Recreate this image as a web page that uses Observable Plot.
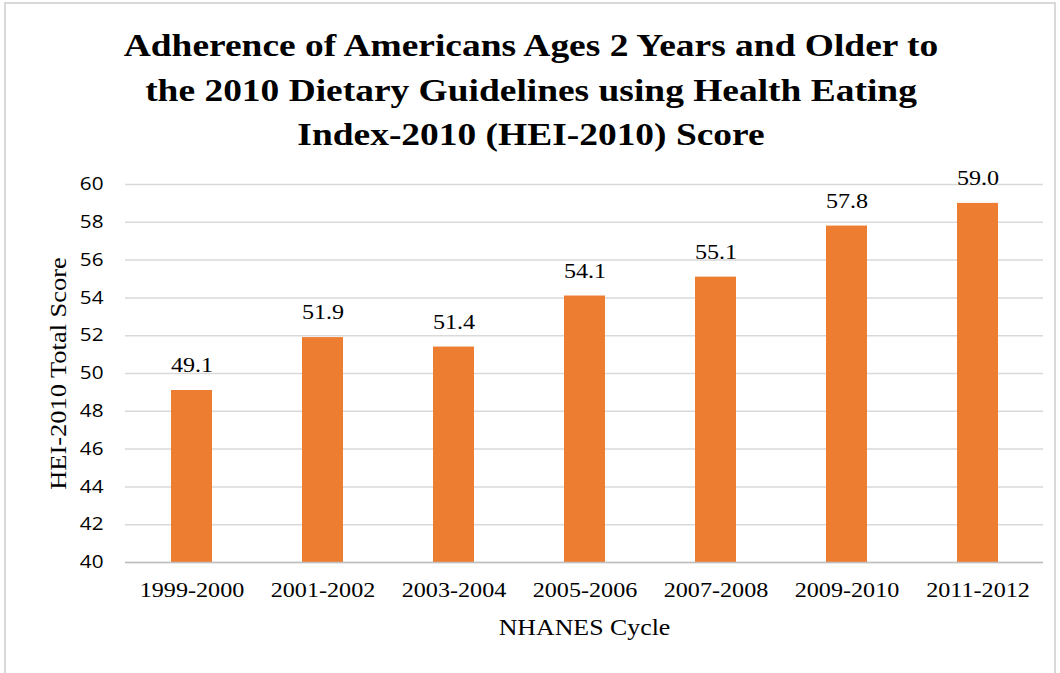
<!DOCTYPE html>
<html>
<head>
<meta charset="utf-8">
<script src="https://cdn.jsdelivr.net/npm/d3@7"></script>
<script src="https://cdn.jsdelivr.net/npm/@observablehq/plot@0.6"></script>
<style>
  html, body { margin: 0; padding: 0; background: #fff; }
  #wrap { position: relative; width: 1060px; height: 673px; overflow: hidden; background: #fff; }
  #frame { position: absolute; left: 4px; top: 2px; width: 1052px; height: 700px; border: 2px solid #D9D9D9; box-sizing: border-box; pointer-events: none; }
  #title { position: relative; margin: 0; padding-top: 23px; width: 1062px; text-align: center;
    font-family: "Liberation Serif", "Times New Roman", serif; font-weight: bold; font-size: 32px; line-height: 44.5px; color: #000;
    height: 130px; transform: scaleX(1.17); transform-origin: 531px 0; }
  #chart svg { display: block; }
</style>
</head>
<body>
<div id="wrap">
  <div id="frame"></div>
  <div id="title">Adherence of Americans Ages 2 Years and Older to<br>the 2010 Dietary Guidelines using Health Eating<br>Index-2010 (HEI-2010) Score</div>
  <div id="chart"></div>
</div>
<script>
const cycles = ["1999-2000", "2001-2002", "2003-2004", "2005-2006", "2007-2008", "2009-2010", "2011-2012"];
const scores = [49.1, 51.9, 51.4, 54.1, 55.1, 57.8, 59.0];
const yTicks = [40, 42, 44, 46, 48, 50, 52, 54, 56, 58, 60];

const data = cycles.map((c, i) => ({cycle: c, score: scores[i]}));

const serif = "'Liberation Serif', 'Times New Roman', serif";

const chart = Plot.plot({
  width: 1060,
  height: 520,
  marginTop: 31,
  marginBottom: 111,
  marginLeft: 125,
  marginRight: 17,
  style: {background: "transparent", fontFamily: serif, color: "#000", overflow: "visible"},
  x: {domain: cycles, paddingInner: 0.69, paddingOuter: 0.345, label: null},
  y: {domain: [40, 60], label: null},
  marks: [
    Plot.gridY(yTicks, {stroke: "#D9D9D9", strokeOpacity: 1, strokeWidth: 1.5}),
    Plot.barY(data, {x: "cycle", y1: 40, y2: "score", fill: "#ED7D31"}),
    Plot.ruleY([40], {stroke: "#BFBFBF", strokeWidth: 1.5}),
    Plot.text(data, {x: "cycle", y: "score", text: d => d.score.toFixed(1), dy: -25,
      fontSize: 21, fontFamily: serif, fill: "#000"}),
    Plot.axisY(yTicks, {tickSize: 0, tickPadding: 22, fontSize: 18, fontFamily: "'Open Sans', sans-serif", fill: "#000", label: null}),
    Plot.axisX({tickSize: 0, tickPadding: 20, fontSize: 21, fontFamily: serif, fill: "#000", label: null}),
    Plot.text(["NHANES Cycle"], {frameAnchor: "bottom", dy: 72, fontSize: 22.5, fontFamily: serif, fill: "#000"}),
    Plot.text(["HEI-2010 Total Score"], {frameAnchor: "left", dx: -67, rotate: -90, textAnchor: "middle", fontSize: 23, fontFamily: serif, fill: "#000"})
  ]
});

// The reference's type is drawn slightly wide: stretch each label along its own baseline.
const stretch = 1.15;
chart.querySelectorAll("text").forEach(t => {
  const xa = t.getAttribute("x");
  const x = xa != null && /^-?[\d.]+(e-?\d+)?$/.test(xa.trim()) ? +xa : 0;
  const tr = t.getAttribute("transform") || "";
  t.setAttribute("transform", `${tr} translate(${x},0) scale(${stretch},1) translate(${-x},0)`.trim());
});

document.getElementById("chart").appendChild(chart);
</script>
</body>
</html>
